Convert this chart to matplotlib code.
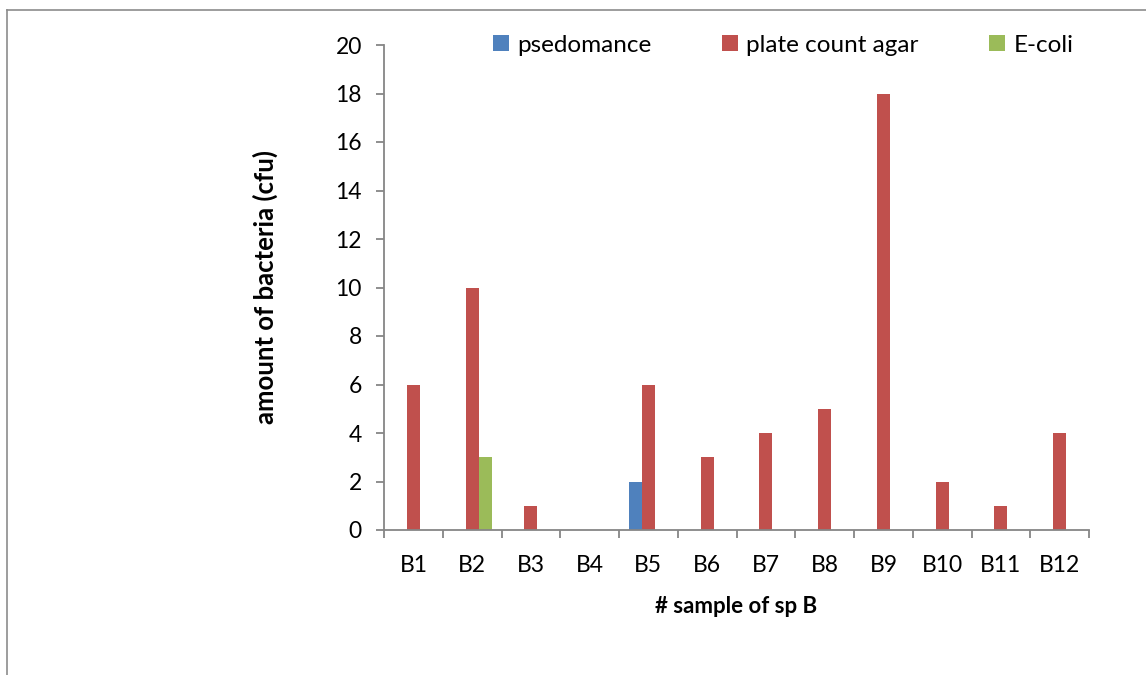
import matplotlib.pyplot as plt
import numpy as np
from matplotlib.lines import Line2D

# Data
samples = ['B1', 'B2', 'B3', 'B4', 'B5', 'B6', 'B7', 'B8', 'B9', 'B10', 'B11', 'B12']
psedomance = [0, 0, 0, 0, 2, 0, 0, 0, 0, 0, 0, 0]
plate_count_agar = [6, 10, 1, 0, 6, 3, 4, 5, 18, 2, 1, 4]
e_coli = [0, 3, 0, 0, 0, 0, 0, 0, 0, 0, 0, 0]

series = [('psedomance', psedomance, '#4F81BD'),
          ('plate count agar', plate_count_agar, '#C0504D'),
          ('E-coli', e_coli, '#9BBB59')]

plt.rcParams['font.family'] = ['Lato', 'DejaVu Sans']
W, H = 1146, 675
fig = plt.figure(figsize=(W / 100, H / 100), dpi=100)
ax = fig.add_axes([384 / W, 1 - 530 / H, (1089 - 384) / W, (530 - 45) / H])

xs = np.arange(len(samples))
bw = 1 / 4.5  # Excel-like gap width 150%
for i, (name, vals, col) in enumerate(series):
    ax.bar(xs + (i - 1) * bw, vals, bw, color=col, label=name)

ax.set_xlim(-0.5, len(samples) - 0.5)
ax.set_ylim(0, 20)
ax.set_yticks(np.arange(0, 21, 2))

# ticks between categories, labels at centres
ax.set_xticks(np.arange(-0.5, len(samples), 1))
ax.set_xticklabels([])
ax.set_xticks(xs, minor=True)
ax.set_xticklabels(samples, minor=True)
ax.tick_params(axis='x', which='minor', length=0, pad=18, labelsize=16.5)
ax.tick_params(axis='x', which='major', length=6, width=1.3, color='#868686')
ax.tick_params(axis='y', length=6, width=1.3, color='#868686', labelsize=16.5, pad=10)

for s in ['top', 'right']:
    ax.spines[s].set_visible(False)
for s in ['left', 'bottom']:
    ax.spines[s].set_color('#868686')
    ax.spines[s].set_linewidth(1.3)

ax.set_xlabel('# sample of sp B', fontsize=16, fontweight='bold')
ax.set_ylabel('amount of bacteria (cfu)', fontsize=18.5, fontweight='bold')
ax.xaxis.set_label_coords(0.5, -0.137)
ax.yaxis.set_label_coords(-0.15, 0.5)

fig.legend(loc='center left', bbox_to_anchor=(493 / W, 1 - 45 / H), ncol=3,
           frameon=False, fontsize=17.5, handlelength=0.65, handleheight=0.65,
           handletextpad=0.35, columnspacing=2.9, borderaxespad=0, borderpad=0)

# frame of the original chart area
fig.add_artist(Line2D([7 / W, 1], [1 - 10 / H, 1 - 10 / H], color='#8c8c8c', lw=1.2))
fig.add_artist(Line2D([7 / W, 7 / W], [0, 1 - 10 / H], color='#8c8c8c', lw=1.2))

fig.savefig('out.png', dpi=100)
